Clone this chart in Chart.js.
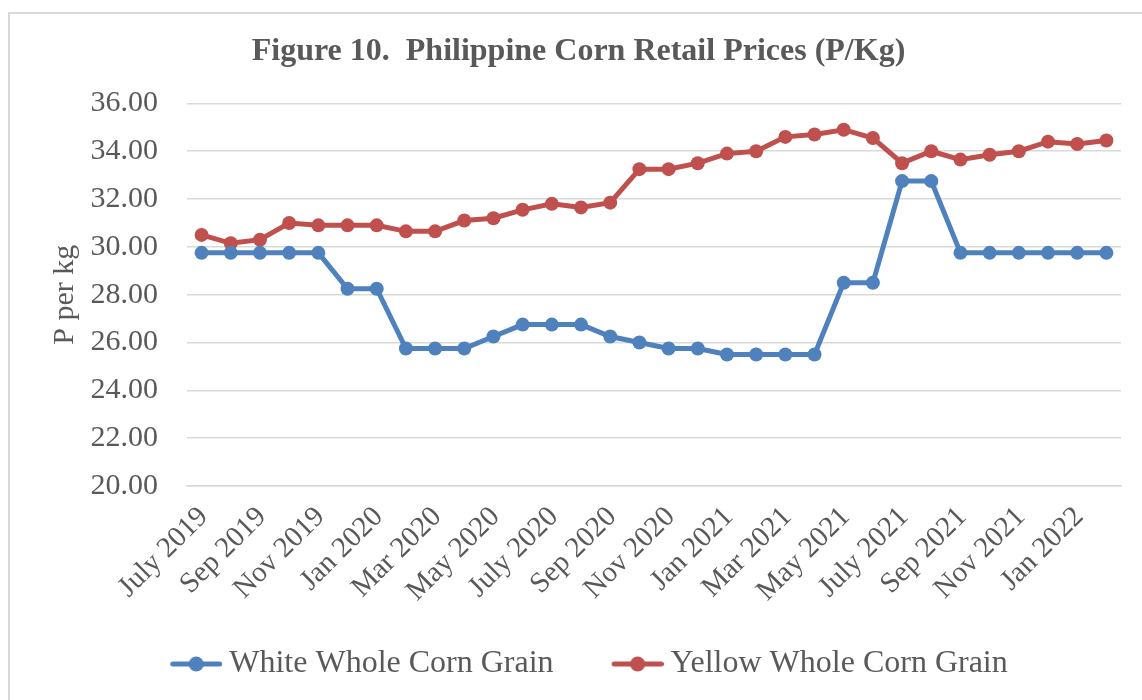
<!DOCTYPE html>
<html>
<head>
<meta charset="utf-8">
<title>Philippine Corn Retail Prices</title>
<script src="https://cdn.jsdelivr.net/npm/chart.js@4"></script>
<style>
  html, body { margin: 0; padding: 0; background: #fff; }
  #wrap { position: relative; width: 1142px; height: 700px; overflow: hidden; }
  #frame { position: absolute; left: 8px; top: 12px; width: 1200px; height: 800px;
           border: 2px solid #d9d9d9; box-sizing: border-box; }
  #chart { position: absolute; left: 0; top: 0; }
</style>
</head>
<body>
<div id="wrap">
  <div id="frame"></div>
  <canvas id="chart" width="1142" height="700"></canvas>
</div>
<script>
/* data */
const months = [
  "July 2019", "Aug 2019", "Sep 2019", "Oct 2019", "Nov 2019", "Dec 2019",
  "Jan 2020", "Feb 2020", "Mar 2020", "Apr 2020", "May 2020", "June 2020",
  "July 2020", "Aug 2020", "Sep 2020", "Oct 2020", "Nov 2020", "Dec 2020",
  "Jan 2021", "Feb 2021", "Mar 2021", "Apr 2021", "May 2021", "June 2021",
  "July 2021", "Aug 2021", "Sep 2021", "Oct 2021", "Nov 2021", "Dec 2021",
  "Jan 2022", "Feb 2022"
];
const whiteCorn = [
  29.75, 29.75, 29.75, 29.75, 29.75, 28.25, 28.25, 25.75, 25.75, 25.75, 26.25, 26.75,
  26.75, 26.75, 26.25, 26.00, 25.75, 25.75, 25.50, 25.50, 25.50, 25.50, 28.50, 28.50,
  32.75, 32.75, 29.75, 29.75, 29.75, 29.75, 29.75, 29.75
];
const yellowCorn = [
  30.50, 30.15, 30.30, 31.00, 30.90, 30.90, 30.90, 30.65, 30.65, 31.10, 31.20, 31.55,
  31.80, 31.65, 31.85, 33.25, 33.25, 33.50, 33.90, 34.00, 34.60, 34.70, 34.90, 34.55,
  33.50, 34.00, 33.65, 33.85, 34.00, 34.40, 34.30, 34.45
];
const yMin = 20, yMax = 36, yStep = 2;

const BLUE = "#4f81bd";
const RED = "#c0504d";
const TEXT = "#595959";
const GRID = "#d9d9d9";
const SERIF = "'Liberation Serif', 'Times New Roman', serif";

// legend marker: short line with a dot; drawn in the right part of the
// canvas so it ends just before the label text
function legendMark(color) {
  const c = document.createElement("canvas");
  c.width = 82; c.height = 18;
  const g = c.getContext("2d");
  g.strokeStyle = color;
  g.lineWidth = 5;
  g.lineCap = "round";
  g.beginPath(); g.moveTo(32.5, 9); g.lineTo(79.5, 9); g.stroke();
  g.fillStyle = color;
  g.beginPath(); g.arc(56, 9, 7.5, 0, Math.PI * 2); g.fill();
  return c;
}
const marks = [legendMark(BLUE), legendMark(RED)];

new Chart(document.getElementById("chart"), {
  type: "line",
  data: {
    labels: months,
    datasets: [
      {
        label: "White Whole Corn Grain",
        data: whiteCorn,
        borderColor: BLUE,
        backgroundColor: BLUE,
        borderWidth: 5,
        pointRadius: 7,
        pointBorderWidth: 0,
        tension: 0
      },
      {
        label: "Yellow Whole Corn Grain",
        data: yellowCorn,
        borderColor: RED,
        backgroundColor: RED,
        borderWidth: 5,
        pointRadius: 7,
        pointBorderWidth: 0,
        tension: 0
      }
    ]
  },
  options: {
    responsive: false,
    animation: false,
    events: [],
    layout: { padding: { left: 36, right: 21, top: 0, bottom: 10 } },
    plugins: {
      title: {
        display: true,
        text: "Figure 10.  Philippine Corn Retail Prices (P/Kg)",
        color: TEXT,
        font: { family: SERIF, size: 32, weight: "bold", lineHeight: 1.2 },
        padding: { top: 33, bottom: 32 }
      },
      legend: {
        position: "bottom",
        labels: {
          color: TEXT,
          font: { family: SERIF, size: 32 },
          usePointStyle: true,
          pointStyleWidth: 64,
          padding: 37,
          generateLabels(chart) {
            const items = Chart.defaults.plugins.legend.labels.generateLabels(chart);
            items.forEach((it, i) => { it.pointStyle = marks[i]; });
            return items;
          }
        }
      },
      tooltip: { enabled: false }
    },
    scales: {
      x: {
        offset: true,
        grid: { display: false },
        border: { color: GRID, width: 1.5 },
        ticks: {
          autoSkip: false,
          minRotation: 45,
          maxRotation: 45,
          padding: 6,
          labelOffset: 2,
          color: TEXT,
          font: { family: SERIF, size: 29 },
          callback(v, i) { return i % 2 === 0 ? this.getLabelForValue(v) : ""; }
        },
        afterFit(scale) { scale.height = 125; }
      },
      y: {
        min: yMin,
        max: yMax,
        grid: { color: GRID, lineWidth: 1.5, drawTicks: false },
        border: { display: false },
        ticks: {
          stepSize: yStep,
          autoSkip: false,
          padding: 29,
          color: TEXT,
          font: { family: SERIF, size: 30, lineHeight: 1 },
          callback: v => v.toFixed(2)
        },
        title: {
          display: true,
          text: "P per kg",
          color: TEXT,
          font: { family: SERIF, size: 30, lineHeight: 1.2 },
          padding: { top: 11, bottom: 0 }
        },
        afterFit(scale) { scale.width = 151; }
      }
    }
  }
});
</script>
</body>
</html>
